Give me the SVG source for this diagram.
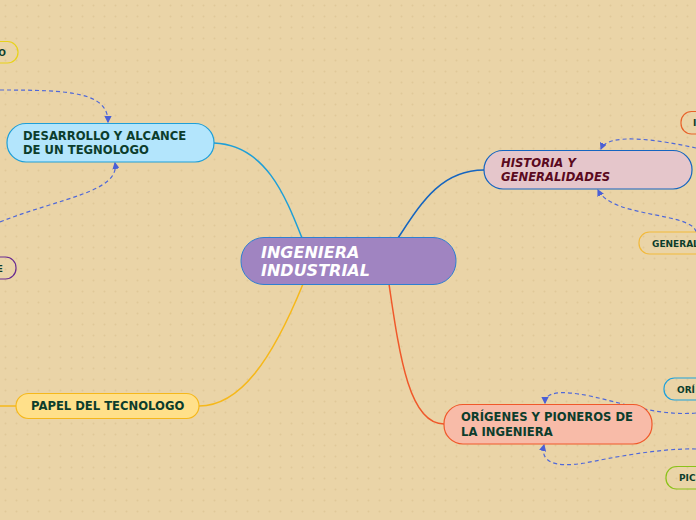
<svg xmlns="http://www.w3.org/2000/svg" width="696" height="520" viewBox="0 0 696 520">
<defs>
<pattern id="dots" width="11" height="11" patternUnits="userSpaceOnUse">
<rect width="11" height="11" fill="#EAD4A7"/>
<circle cx="5.5" cy="5.5" r="1" fill="#E0C898"/>
</pattern>
<marker id="arr" viewBox="0 0 6 6" refX="5" refY="3" markerWidth="6" markerHeight="6" orient="auto">
<path d="M0,0 L6,3 L0,6 z" fill="#4A5FD6"/>
</marker>
<style>
.t{font-family:"DejaVu Sans",Verdana,sans-serif;font-weight:bold;font-size:11.6px;fill:#0C3D2C}
.s{font-family:"DejaVu Sans",Verdana,sans-serif;font-weight:bold;font-size:9px;fill:#0C3D2C}
.dash{fill:none;stroke:#5068D8;stroke-width:1.2;stroke-dasharray:4 3;marker-end:url(#arr)}
.line{fill:none;stroke-width:1.5}
</style>
</defs>
<rect width="696" height="520" fill="url(#dots)"/>

<g id="connectors">
<path class="line" stroke="#1E9FD8" d="M302,238 C285,195 265,145 214,143"/>
<path class="line" stroke="#1565C0" d="M398,238 C420,205 440,170 484,170"/>
<path class="line" stroke="#F0582A" d="M389,284 C400,360 410,424 444,424"/>
<path class="line" stroke="#F6B81A" d="M303,284 C272,360 240,406 199,406"/>
<path class="line" stroke="#F6B81A" d="M16,406 L0,406"/>
<path class="dash" d="M0,90 C70,90 108,92 108,122"/>
<path class="dash" d="M0,222 C60,198 120,192 115,163"/>
<path class="dash" d="M696,148 C660,140 608,132 601,149"/>
<path class="dash" d="M696,232 C692,212 612,218 598,190"/>
<path class="dash" d="M696,413 C660,416 630,405 590,396 C560,390 545,392 545,403"/>
<path class="dash" d="M696,449 C660,448 610,458 585,463 C555,468 540,462 544,445"/>
</g>

<g id="central">
<rect x="241" y="237.5" width="215" height="47" rx="23" fill="#A084C1" stroke="#2F7FD2" stroke-width="1"/>
<text x="261" y="258" font-family="DejaVu Sans,Verdana,sans-serif" font-weight="bold" font-style="italic" font-size="16" fill="#FFFFFF">INGENIERA</text>
<text x="261" y="276" font-family="DejaVu Sans,Verdana,sans-serif" font-weight="bold" font-style="italic" font-size="16" fill="#FFFFFF">INDUSTRIAL</text>
</g>

<g id="desarrollo">
<rect x="7" y="123.5" width="207" height="38.5" rx="19" fill="#B3E5FC" stroke="#1E9FD8" stroke-width="1.2"/>
<text class="t" x="23" y="140">DESARROLLO Y ALCANCE</text>
<text class="t" x="23" y="154">DE UN TEGNOLOGO</text>
</g>

<g id="historia">
<rect x="484" y="150.5" width="208" height="38.5" rx="19" fill="#E5C6CB" stroke="#1565C0" stroke-width="1.2"/>
<text class="t" x="501" y="167" font-style="italic" style="fill:#5A0A1E">HISTORIA Y</text>
<text class="t" x="501" y="181" font-style="italic" style="fill:#5A0A1E">GENERALIDADES</text>
</g>

<g id="origenes">
<rect x="444" y="404.5" width="208" height="39.5" rx="19" fill="#F8BBA8" stroke="#F0582A" stroke-width="1.2"/>
<text class="t" x="461" y="421">ORÍGENES Y PIONEROS DE</text>
<text class="t" x="461" y="436">LA INGENIERA</text>
</g>

<g id="papel">
<rect x="16" y="393.5" width="183" height="25" rx="12.5" fill="#FFE08A" stroke="#F6B81A" stroke-width="1.2"/>
<text class="t" x="31" y="410">PAPEL DEL TECNOLOGO</text>
</g>

<g id="left-top">
<rect x="-60" y="41.5" width="78" height="21.5" rx="10.5" fill="none" stroke="#E8D21A" stroke-width="1.2"/>
<text class="s" x="6" y="55.5" text-anchor="end">O</text>
</g>

<g id="left-mid">
<rect x="-60" y="257" width="76" height="22" rx="10.5" fill="none" stroke="#6A2C91" stroke-width="1.2"/>
<text class="s" x="3" y="271.5" text-anchor="end">E</text>
</g>

<g id="right-top">
<rect x="681" y="111.5" width="60" height="22.5" rx="10.5" fill="none" stroke="#E8622A" stroke-width="1.2"/>
<text class="s" x="693" y="126">I</text>
</g>

<g id="right-general">
<rect x="639" y="232" width="80" height="22" rx="10.5" fill="none" stroke="#F2B93B" stroke-width="1.2"/>
<text class="s" x="652" y="246.5">GENERAL</text>
</g>

<g id="right-origenes">
<rect x="664" y="378" width="60" height="22" rx="10.5" fill="none" stroke="#1EA1DB" stroke-width="1.2"/>
<text class="s" x="677" y="392.5">ORÍ</text>
</g>

<g id="right-pioneros">
<rect x="666" y="466.5" width="60" height="22.5" rx="10.5" fill="none" stroke="#8BC21A" stroke-width="1.2"/>
<text class="s" x="679" y="481">PIC</text>
</g>
</svg>
